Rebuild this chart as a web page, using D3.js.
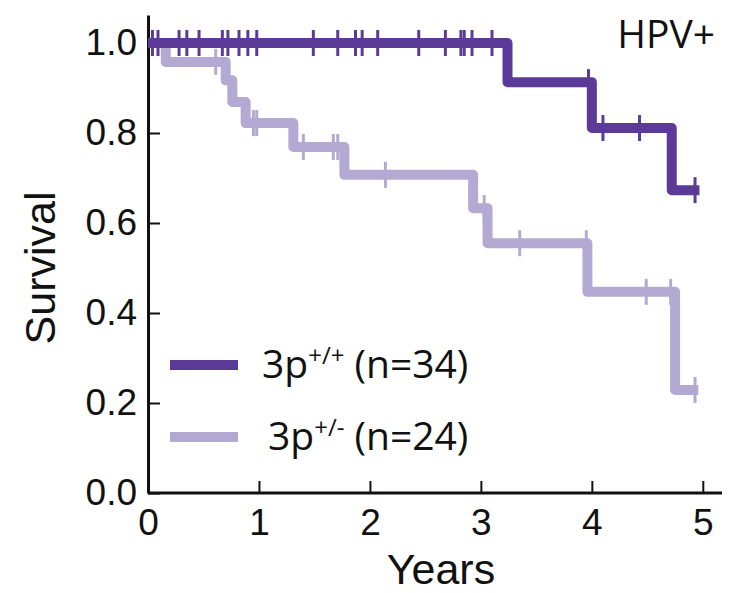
<!DOCTYPE html>
<html>
<head>
<meta charset="utf-8">
<script src="https://cdn.jsdelivr.net/npm/d3@7"></script>
<style>
  body { margin: 0; background: #fff; }
  .tick_label { font-family: "Liberation Sans", Arial, sans-serif; font-size: 37px; fill: #111; }
  .axis_title { font-family: "Liberation Sans", Arial, sans-serif; font-size: 43px; fill: #111; }
  .legend_str { font-family: "Open Sans", "Noto Sans", sans-serif; font-size: 39px; fill: #111; }
</style>
</head>
<body>
<svg id="chart" width="734" height="593"></svg>
<script>
// 3p+/+ (dark) : event times and survival after each drop
var darkTimes = [0, 3.24, 4.0, 4.72];
var darkSurv = [1.0, 0.913, 0.811, 0.673];
var darkEnd = 4.97;
var darkCensor = [0.04, 0.09, 0.28, 0.35, 0.46, 0.67, 0.72, 0.82, 0.90, 0.98, 1.49, 1.71, 1.87,
                  1.93, 2.07, 2.44, 2.68, 2.82, 2.85, 2.92, 3.10, 3.97, 4.10, 4.43, 4.93];

// 3p+/- (light)
var lightTimes = [0, 0.16, 0.70, 0.76, 0.88, 1.31, 1.77, 2.93, 3.06, 3.96, 4.75];
var lightSurv = [1.0, 0.958, 0.917, 0.869, 0.822, 0.769, 0.707, 0.633, 0.555, 0.447, 0.229];
var lightEnd = 4.96;
var lightCensor = [0.61, 0.95, 0.98, 1.40, 1.67, 1.71, 2.14, 3.03, 3.35, 3.95, 4.49, 4.71, 4.93];

var xTicks = [0, 1, 2, 3, 4, 5];
var yTicks = [0, 0.2, 0.4, 0.6, 0.8, 1.0];
var legendLabels = [["3p", "+/+", " (n=34)"], ["3p", "+/-", " (n=24)"]];

var darkColor = '#5b3a98';
var lightColor = '#b2aad3';

var svg = d3.select('#chart');
var left = 148, bottom = 493;

var x = d3.scaleLinear().domain([0, 5.2]).range([left, 725]);
var y = d3.scaleLinear().domain([0, 1.0622]).range([bottom, 15]);

// step function value at time t
function survAt(times, surv, t) {
  var s = surv[0];
  for (var i = 0; i < times.length; i++) {
    if (times[i] <= t) s = surv[i];
  }
  return s;
}

function stepPoints(times, surv, end) {
  var pts = [];
  for (var i = 0; i < times.length; i++) {
    pts.push([times[i], surv[i]]);
  }
  pts.push([end, surv[surv.length - 1]]);
  return pts;
}

var line = d3.line()
  .x(function(d) { return x(d[0]); })
  .y(function(d) { return y(d[1]); })
  .curve(d3.curveStepAfter);

function drawCurve(times, surv, end, censor, color) {
  svg.append('path')
    .datum(stepPoints(times, surv, end))
    .attr('d', line)
    .attr('fill', 'none')
    .attr('stroke', color)
    .attr('stroke-width', 10)
    .attr('stroke-linejoin', 'round');
  svg.selectAll(null)
    .data(censor)
    .enter().append('line')
    .attr('x1', function(d) { return x(d); })
    .attr('x2', function(d) { return x(d); })
    .attr('y1', function(d) { return y(survAt(times, surv, d)) - 13; })
    .attr('y2', function(d) { return y(survAt(times, surv, d)) + 13; })
    .attr('stroke', color)
    .attr('stroke-width', 3);
}

// Axes
var xAxis = d3.axisBottom(x).tickValues(xTicks).tickSizeInner(-12).tickSizeOuter(0).tickPadding(16)
  .tickFormat(d3.format('d'));
var yAxis = d3.axisLeft(y).tickValues(yTicks).tickSizeInner(-12).tickSizeOuter(0).tickPadding(11)
  .tickFormat(d3.format('.1f'));

var gx = svg.append('g').attr('transform', 'translate(0,' + bottom + ')').call(xAxis);
var gy = svg.append('g').attr('transform', 'translate(' + left + ',0)').call(yAxis);
[gx, gy].forEach(function(g) {
  g.select('.domain').attr('stroke', '#111').attr('stroke-width', 3);
  g.selectAll('.tick line').attr('stroke', '#111').attr('stroke-width', 2);
  g.selectAll('.tick text').attr('class', 'tick_label').attr('font-size', null).attr('font-family', null);
});
gx.select('.domain').attr('d', 'M' + left + ',0H722');

// Curves, light first so dark sits on top
drawCurve(lightTimes, lightSurv, lightEnd, lightCensor, lightColor);
drawCurve(darkTimes, darkSurv, darkEnd, darkCensor, darkColor);

// Titles
svg.append('text')
  .attr('class', 'axis_title')
  .attr('x', 441)
  .attr('y', 584)
  .attr('font-size', '41px')
  .attr('text-anchor', 'middle')
  .text('Years');
svg.append('text')
  .attr('class', 'axis_title')
  .attr('transform', 'translate(55,268) rotate(-90)')
  .attr('text-anchor', 'middle')
  .text('Survival');
svg.append('text')
  .attr('class', 'legend_str')
  .attr('x', 715)
  .attr('y', 48)
  .attr('text-anchor', 'end')
  .text('HPV+');

// Legend
var legendColors = [darkColor, lightColor];
var legendY = [365, 437];
legendLabels.forEach(function(lab, i) {
  svg.append('line')
    .attr('x1', 170).attr('x2', 238)
    .attr('y1', legendY[i]).attr('y2', legendY[i])
    .attr('stroke', legendColors[i])
    .attr('stroke-width', 10);
  var t = svg.append('text')
    .attr('class', 'legend_str')
    .attr('x', i == 0 ? 262 : 268)
    .attr('y', legendY[i] + 13);
  t.append('tspan').text(lab[0]);
  t.append('tspan').attr('font-size', '24px').attr('dy', -14).text(lab[1]);
  t.append('tspan').attr('dy', 14).text(lab[2]);
});
</script>
</body>
</html>
